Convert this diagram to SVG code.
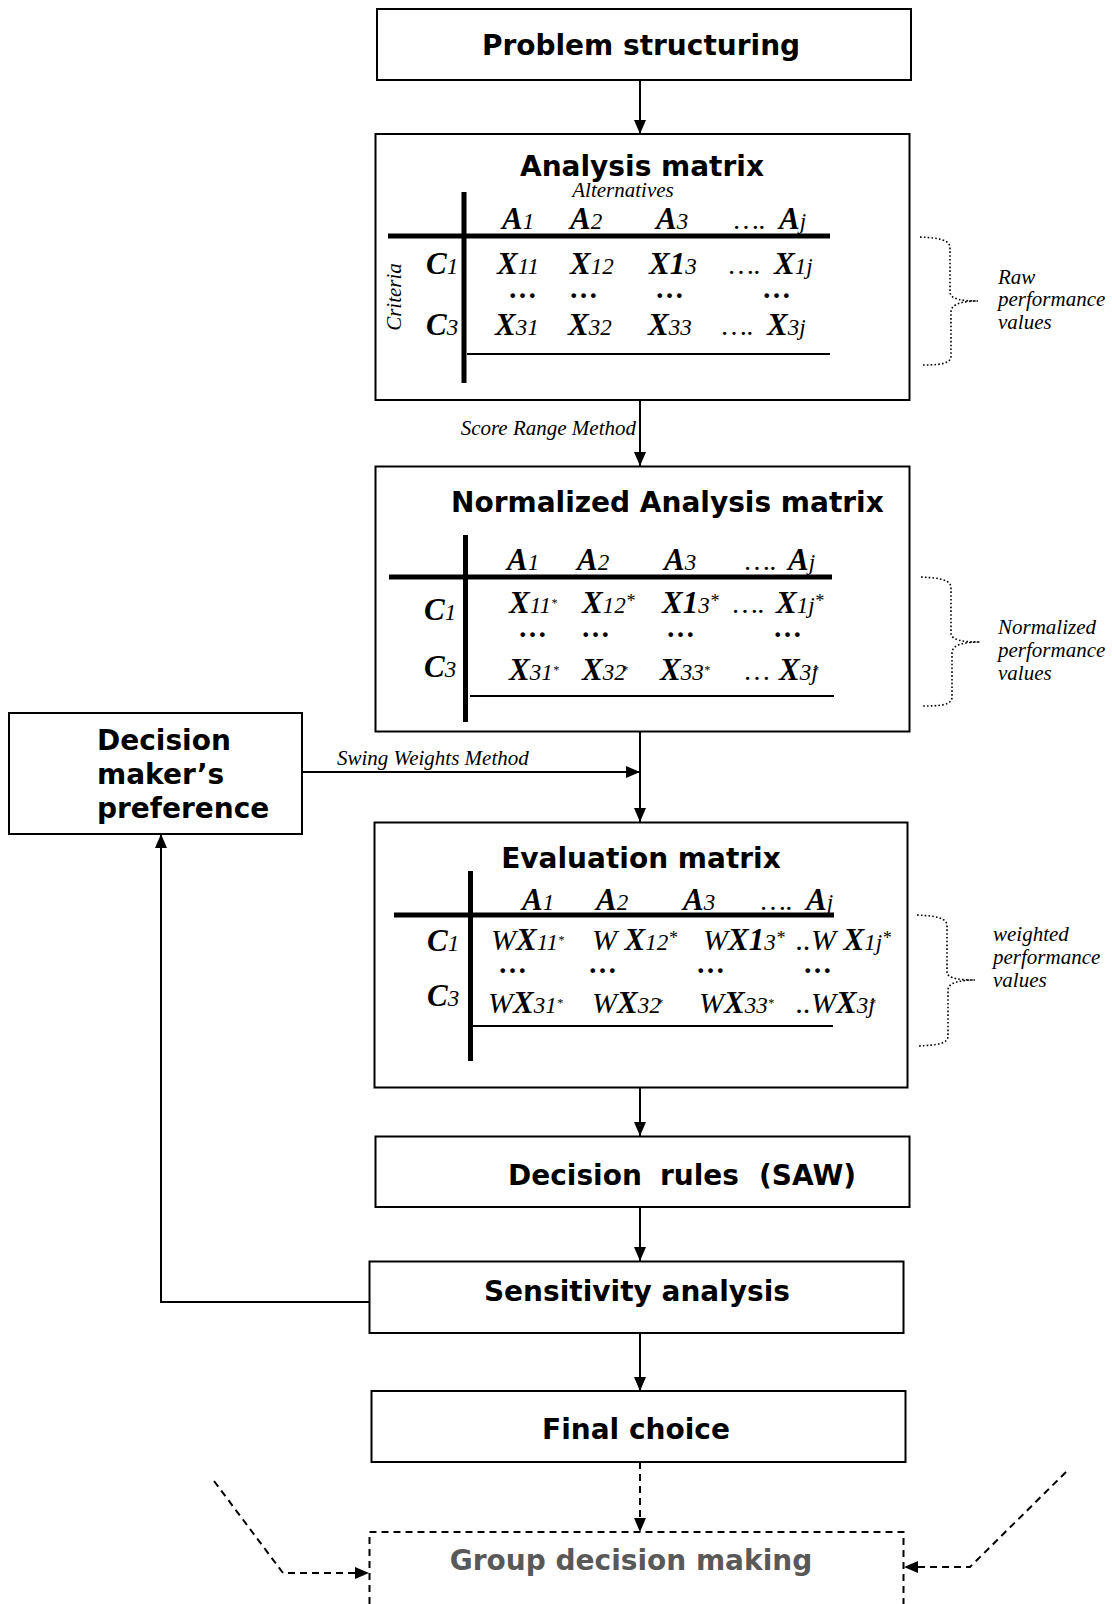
<svg xmlns="http://www.w3.org/2000/svg" width="1112" height="1604" viewBox="0 0 1112 1604">
<defs>
<style>
.box{fill:#fff;stroke:#000;stroke-width:2}
.hd{font-family:"DejaVu Sans",Verdana,sans-serif;font-weight:bold;font-size:28px;fill:#000}
.lb{font-family:"Liberation Serif","Times New Roman",serif;font-style:italic;font-size:21px;fill:#000}
.mx{font-family:"Liberation Serif","Times New Roman",serif;font-style:italic;font-size:23px;fill:#000}
.mx .b{font-weight:bold;font-size:31px}
.mx .w{font-size:30px}
.mx .e{font-size:28px}
.mx .s1{font-size:12px}
.mx .s2{font-size:18px}
.dt{font-family:"Liberation Serif","Times New Roman",serif;font-weight:bold;font-size:29px;fill:#000}
.thick{stroke:#000;stroke-width:5}
.thin{stroke:#000;stroke-width:2}
.conn{fill:none;stroke:#000;stroke-width:2}
.dash{stroke-dasharray:7 5}
.brace{fill:none;stroke:#000;stroke-width:1.6;stroke-dasharray:1.6 2.2}
</style>
<marker id="ah" viewBox="0 0 14 12" refX="14" refY="6" markerWidth="14" markerHeight="12" markerUnits="userSpaceOnUse" orient="auto"><path d="M0,0L14,6L0,12z" fill="#000"/></marker>
</defs>
<rect width="1112" height="1604" fill="#fff"/>

<!-- connectors -->
<g id="connectors">
  <line class="conn" x1="640" y1="80" x2="640" y2="134" marker-end="url(#ah)"/>
  <line class="conn" x1="640" y1="400" x2="640" y2="466" marker-end="url(#ah)"/>
  <text class="lb" x="636" y="435" text-anchor="end">Score Range Method</text>
  <line class="conn" x1="640" y1="731" x2="640" y2="822" marker-end="url(#ah)"/>
  <line class="conn" x1="302" y1="772" x2="640" y2="772" marker-end="url(#ah)"/>
  <text class="lb" x="337" y="765">Swing Weights Method</text>
  <line class="conn" x1="640" y1="1088" x2="640" y2="1136" marker-end="url(#ah)"/>
  <line class="conn" x1="640" y1="1207" x2="640" y2="1261" marker-end="url(#ah)"/>
  <line class="conn" x1="640" y1="1333" x2="640" y2="1391" marker-end="url(#ah)"/>
  <polyline class="conn" points="369,1302 161,1302 161,834" marker-end="url(#ah)"/>
  <line class="conn dash" x1="640" y1="1462" x2="640" y2="1532" marker-end="url(#ah)"/>
  <polyline class="conn dash" points="214,1481 283,1573 369,1573" marker-end="url(#ah)"/>
  <polyline class="conn dash" points="1066,1472 970,1567 904,1567" marker-end="url(#ah)"/>
</g>

<!-- Problem structuring -->
<g id="problem-structuring">
  <rect class="box" x="377" y="9" width="534" height="71"/>
  <text class="hd" x="641" y="55" text-anchor="middle">Problem structuring</text>
</g>

<!-- Analysis matrix -->
<g id="analysis-matrix">
  <rect class="box" x="375.5" y="134" width="534" height="266"/>
  <text class="hd" x="642" y="176" text-anchor="middle">Analysis matrix</text>
  <text class="lb" x="623" y="197" text-anchor="middle">Alternatives</text>
  <text class="lb" transform="translate(401,297) rotate(-90)" text-anchor="middle">Criteria</text>
  <line class="thick" x1="464" y1="192" x2="464" y2="383"/>
  <line class="thick" x1="388" y1="236" x2="830" y2="236"/>
  <line class="thin" x1="467" y1="354" x2="830" y2="354"/>
  <text class="mx" x="502" y="229"><tspan class="b">A</tspan>1</text>
  <text class="mx" x="570" y="229"><tspan class="b">A</tspan>2</text>
  <text class="mx" x="656" y="229"><tspan class="b">A</tspan>3</text>
  <text class="mx" x="734" y="229"><tspan class="e">….</tspan><tspan class="b" x="779">A</tspan>j</text>
  <text class="mx" x="426" y="274"><tspan class="b">C</tspan>1</text>
  <text class="mx" x="426" y="335"><tspan class="b">C</tspan>3</text>
  <text class="mx" x="497" y="274"><tspan class="b">X</tspan>11</text>
  <text class="mx" x="570" y="274"><tspan class="b">X</tspan>12</text>
  <text class="mx" x="649" y="274"><tspan class="b">X1</tspan>3</text>
  <text class="mx" x="729" y="274"><tspan class="e">….</tspan><tspan class="b" x="774">X</tspan>1j</text>
  <text class="dt" x="508" y="298">…</text>
  <text class="dt" x="569" y="298">…</text>
  <text class="dt" x="655" y="298">…</text>
  <text class="dt" x="762" y="298">…</text>
  <text class="mx" x="495" y="335"><tspan class="b">X</tspan>31</text>
  <text class="mx" x="568" y="335"><tspan class="b">X</tspan>32</text>
  <text class="mx" x="648" y="335"><tspan class="b">X</tspan>33</text>
  <text class="mx" x="722" y="335"><tspan class="e">….</tspan><tspan class="b" x="767">X</tspan>3j</text>
</g>

<!-- Normalized analysis matrix -->
<g id="normalized-matrix">
  <rect class="box" x="375.5" y="466.5" width="534" height="265"/>
  <text class="hd" x="451" y="512">Normalized Analysis matrix</text>
  <line class="thick" x1="465.5" y1="535" x2="465.5" y2="722"/>
  <line class="thick" x1="389" y1="577" x2="832" y2="577"/>
  <line class="thin" x1="470" y1="696" x2="834" y2="696"/>
  <text class="mx" x="507" y="570"><tspan class="b">A</tspan>1</text>
  <text class="mx" x="577" y="570"><tspan class="b">A</tspan>2</text>
  <text class="mx" x="664" y="570"><tspan class="b">A</tspan>3</text>
  <text class="mx" x="745" y="570"><tspan class="e">….</tspan><tspan class="b" x="788">A</tspan>j</text>
  <text class="mx" x="424" y="620"><tspan class="b">C</tspan>1</text>
  <text class="mx" x="424" y="677"><tspan class="b">C</tspan>3</text>
  <text class="mx" x="509" y="613"><tspan class="b">X</tspan>11<tspan class="s1" dy="-6">*</tspan></text>
  <text class="mx" x="582" y="613"><tspan class="b">X</tspan>12<tspan class="s2" dy="-6">*</tspan></text>
  <text class="mx" x="662" y="613"><tspan class="b">X1</tspan>3<tspan class="s2" dy="-6">*</tspan></text>
  <text class="mx" x="733" y="613"><tspan class="e">….</tspan><tspan class="b" x="776">X</tspan>1j<tspan class="s2" dy="-6">*</tspan></text>
  <text class="dt" x="518" y="637">…</text>
  <text class="dt" x="581" y="637">…</text>
  <text class="dt" x="666" y="637">…</text>
  <text class="dt" x="773" y="637">…</text>
  <text class="mx" x="509" y="680"><tspan class="b">X</tspan>31<tspan class="s1" dy="-6">*</tspan></text>
  <text class="mx" x="582" y="680"><tspan class="b">X</tspan>32<tspan class="s1" dy="-6" dx="-4">*</tspan></text>
  <text class="mx" x="660" y="680"><tspan class="b">X</tspan>33<tspan class="s1" dy="-6">*</tspan></text>
  <text class="mx" x="745" y="680"><tspan class="e">…</tspan><tspan class="b" x="779">X</tspan>3j<tspan class="s1" dy="-6" dx="-5">*</tspan></text>
</g>

<!-- Decision maker's preference -->
<g id="dm-preference">
  <rect class="box" x="9" y="713" width="293" height="121"/>
  <text class="hd" x="97" y="750">Decision</text>
  <text class="hd" x="97" y="784">maker’s</text>
  <text class="hd" x="97" y="818">preference</text>
</g>

<!-- Evaluation matrix -->
<g id="evaluation-matrix">
  <rect class="box" x="374.5" y="822.5" width="533" height="265"/>
  <text class="hd" x="641" y="868" text-anchor="middle">Evaluation matrix</text>
  <line class="thick" x1="470.5" y1="871" x2="470.5" y2="1061"/>
  <line class="thick" x1="394" y1="915" x2="834" y2="915"/>
  <line class="thin" x1="473" y1="1026" x2="833" y2="1026"/>
  <text class="mx" x="522" y="910"><tspan class="b">A</tspan>1</text>
  <text class="mx" x="596" y="910"><tspan class="b">A</tspan>2</text>
  <text class="mx" x="683" y="910"><tspan class="b">A</tspan>3</text>
  <text class="mx" x="761" y="910"><tspan class="e">….</tspan><tspan class="b" x="806">A</tspan>j</text>
  <text class="mx" x="427" y="951"><tspan class="b">C</tspan>1</text>
  <text class="mx" x="427" y="1006"><tspan class="b">C</tspan>3</text>
  <text class="mx" x="491" y="950"><tspan class="w">W</tspan><tspan class="b">X</tspan>11<tspan class="s1" dy="-6">*</tspan></text>
  <text class="mx" x="592" y="950"><tspan class="w">W </tspan><tspan class="b">X</tspan>12<tspan class="s2" dy="-6">*</tspan></text>
  <text class="mx" x="703" y="950"><tspan class="w">W</tspan><tspan class="b">X1</tspan>3<tspan class="s2" dy="-6">*</tspan></text>
  <text class="mx" x="796" y="950"><tspan class="w">..W </tspan><tspan class="b">X</tspan>1j<tspan class="s2" dy="-6">*</tspan></text>
  <text class="dt" x="498" y="973">…</text>
  <text class="dt" x="588" y="973">…</text>
  <text class="dt" x="696" y="973">…</text>
  <text class="dt" x="803" y="973">…</text>
  <text class="mx" x="488" y="1013"><tspan class="w">W</tspan><tspan class="b">X</tspan>31<tspan class="s1" dy="-6">*</tspan></text>
  <text class="mx" x="592" y="1013"><tspan class="w">W</tspan><tspan class="b">X</tspan>32<tspan class="s1" dy="-6" dx="-4">*</tspan></text>
  <text class="mx" x="699" y="1013"><tspan class="w">W</tspan><tspan class="b">X</tspan>33<tspan class="s1" dy="-6">*</tspan></text>
  <text class="mx" x="796" y="1013"><tspan class="w">..W</tspan><tspan class="b">X</tspan>3j<tspan class="s1" dy="-6" dx="-5">*</tspan></text>
</g>

<!-- Decision rules -->
<g id="decision-rules">
  <rect class="box" x="375.5" y="1136.5" width="534" height="70.5"/>
  <text class="hd" y="1185"><tspan x="508">Decision</tspan><tspan x="660">rules</tspan><tspan x="759">(SAW)</tspan></text>
</g>

<!-- Sensitivity analysis -->
<g id="sensitivity-analysis">
  <rect class="box" x="369.5" y="1261.5" width="534" height="71.5"/>
  <text class="hd" x="637" y="1301" text-anchor="middle">Sensitivity analysis</text>
</g>

<!-- Final choice -->
<g id="final-choice">
  <rect class="box" x="371.5" y="1391" width="534" height="71"/>
  <text class="hd" x="636" y="1439" text-anchor="middle">Final choice</text>
</g>

<!-- Group decision making (open-ended dashed frame) -->
<g id="group-decision">
  <path d="M369.5,1604 V1532 H903.5 V1604" fill="none" stroke="#000" stroke-width="2" stroke-dasharray="7 5"/>
  <text class="hd" x="631" y="1570" text-anchor="middle" style="fill:#595959">Group decision making</text>
</g>

<!-- dotted braces with notes -->
<g id="raw-values">
  <path class="brace" d="M920,237 C940,238 950,240 950,248 L950,292 C950,300 965,301 978,301 C965,301 951,303 951,312 L951,356 C951,364 940,365 921,365"/>
  <text class="lb" x="998" y="284">Raw</text>
  <text class="lb" x="998" y="306">performance</text>
  <text class="lb" x="998" y="329">values</text>
</g>
<g id="normalized-values">
  <path class="brace" d="M921,577 C941,578 951,580 951,588 L951,633 C951,641 966,642 980,642 C966,642 952,644 952,653 L952,697 C952,705 941,706 922,706"/>
  <text class="lb" x="998" y="634">Normalized</text>
  <text class="lb" x="998" y="657">performance</text>
  <text class="lb" x="998" y="680">values</text>
</g>
<g id="weighted-values">
  <path class="brace" d="M917,915 C937,916 947,918 947,926 L947,972 C947,979 962,980 975,980 C962,980 948,982 948,990 L948,1036 C948,1044 937,1045 918,1046"/>
  <text class="lb" x="993" y="941">weighted</text>
  <text class="lb" x="993" y="964">performance</text>
  <text class="lb" x="993" y="987">values</text>
</g>
</svg>
